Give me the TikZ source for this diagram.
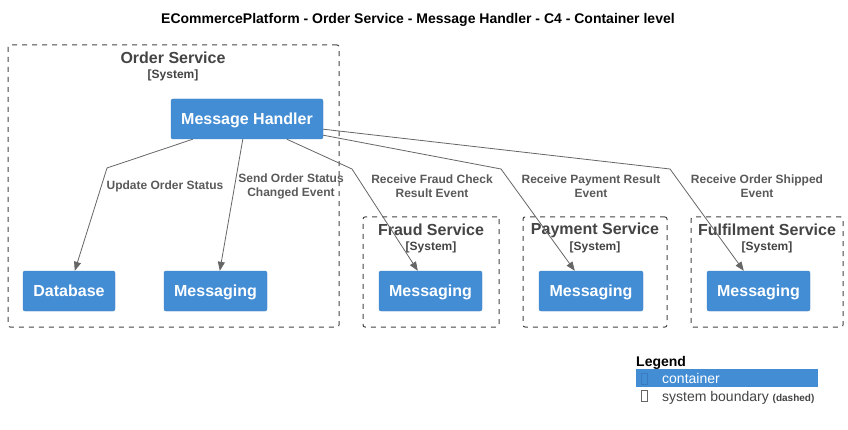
\documentclass[tikz,border=0pt]{standalone}
\usepackage{fontspec}
\setmainfont{Liberation Sans}
\usetikzlibrary{arrows.meta}
\definecolor{cblue}{HTML}{438DD5}
\definecolor{cline}{HTML}{666666}
\definecolor{ctext}{HTML}{444444}
\definecolor{clabel}{HTML}{5A5A5A}
\definecolor{cicon}{HTML}{3A7BBF}
\tikzset{
  container/.style={fill=cblue, draw=cblue!90!black, line width=0.4pt, rounded corners=2pt, text=white,
    font=\fontsize{16}{19}\selectfont\bfseries, inner sep=0pt, minimum height=40pt, text depth=0pt},
  boundary/.style={draw=ctext, dash pattern=on 5pt off 5pt, line width=1pt, rounded corners=2pt, inner sep=0pt},
  btitle/.style={text=ctext, font=\fontsize{16}{19}\selectfont\bfseries, inner sep=0pt},
  bsub/.style={text=ctext, font=\fontsize{12}{14}\selectfont\bfseries, inner sep=0pt},
  edge/.style={draw=cline, line width=0.8pt, -{Triangle[length=9pt,width=7pt]}},
  elabel/.style={text=clabel, font=\fontsize{12}{14}\selectfont\bfseries, align=center, inner sep=0pt},
}
\begin{document}
\begin{tikzpicture}[x=1pt,y=-1pt]
\useasboundingbox (0,0) rectangle (848,430);
\fill[white] (0,0) rectangle (848,430);

\node[font=\fontsize{14}{17}\selectfont\bfseries, inner sep=0pt] (title) at (418,20) {ECommercePlatform - Order Service - Message Handler - C4 - Container level};

% boundaries
\node[boundary, minimum width=331pt, minimum height=282pt] (osb) at (173.5,186) {};
\node[btitle] (ost) at (173,58) {Order Service};
\node[bsub] (oss) at (173,75) {[System]};

\node[boundary, minimum width=136pt, minimum height=110pt] (fsb) at (431,272) {};
\node[btitle] (fst) at (431,230) {Fraud Service};
\node[bsub] (fss) at (431,247) {[System]};

\node[boundary, minimum width=144pt, minimum height=110pt] (psb) at (595,272) {};
\node[btitle] (pst) at (595,230) {Payment Service};
\node[bsub] (pss) at (595,247) {[System]};

\node[boundary, minimum width=152pt, minimum height=110pt] (fub) at (767,272) {};
\node[btitle] (fut) at (767,230) {Fulfilment Service};
\node[bsub] (fus) at (767,247) {[System]};

% containers
\node[container, minimum width=152pt] (mh) at (247,119) {Message Handler};
\node[container, minimum width=92pt] (db) at (69,291) {Database};
\node[container, minimum width=103pt] (om) at (215.5,291) {Messaging};
\node[container, minimum width=103pt] (fm) at (430.5,291) {Messaging};
\node[container, minimum width=104pt] (pm) at (591,291) {Messaging};
\node[container, minimum width=103pt] (fum) at (758.5,291) {Messaging};

% bend coordinates
\coordinate (b1) at (107,168);
\coordinate (b3) at (352,169);
\coordinate (b4) at (501,169);
\coordinate (b5) at (670,169);

% edges
\draw[edge] ([xshift=22pt]mh.south west) -- (b1) -- ([xshift=52pt]db.north west);
\draw[edge] ([xshift=72pt]mh.south west) -- ([xshift=56pt]om.north west);
\draw[edge] ([xshift=116pt]mh.south west) -- (b3) -- ([xshift=39pt]fm.north west);
\draw[edge] ([yshift=4pt]mh.south east) -- (b4) -- ([xshift=36pt]pm.north west);
\draw[edge] ([yshift=10pt]mh.south east) -- (b5) -- ([xshift=37pt]fum.north west);

% edge labels
\node[elabel] (l1) at (165,186) {Update Order Status};
\node[elabel] (l2) at (291,186) {Send Order Status\\Changed Event};
\node[elabel] (l3) at (432,186) {Receive Fraud Check\\Result Event};
\node[elabel] (l4) at (591,186) {Receive Payment Result\\Event};
\node[elabel] (l5) at (757,186) {Receive Order Shipped\\Event};

% legend
\node[anchor=base west, font=\fontsize{14}{17}\selectfont\bfseries, inner sep=0pt] (lg) at (636,366) {Legend};
\node[fill=cblue, inner sep=0pt, minimum width=182pt, minimum height=18pt] (lgbar) at (727,378) {};
\node[draw=cicon, line width=0.6pt, inner sep=0pt, minimum width=6pt, minimum height=11pt] (lgi1) at (644,379) {};
\node[anchor=base west, text=white, font=\fontsize{14}{17}\selectfont, inner sep=0pt] (lgt1) at (662,383) {container};
\node[draw=cline, line width=0.6pt, inner sep=0pt, minimum width=6pt, minimum height=11pt] (lgi2) at (644,396) {};
\node[anchor=base west, text=ctext, font=\fontsize{14}{17}\selectfont, inner sep=0pt] (lgt2) at (662,401) {system boundary \fontsize{10}{11}\selectfont\bfseries(dashed)};
\end{tikzpicture}
\end{document}
